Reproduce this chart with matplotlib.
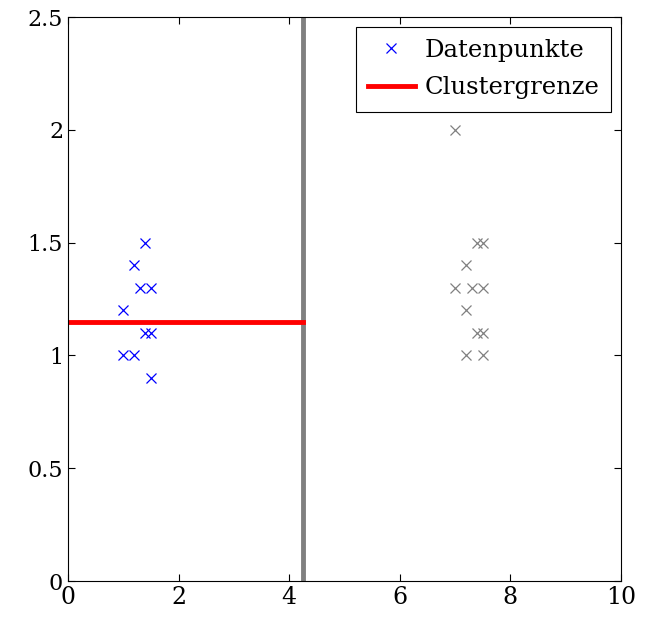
import matplotlib
matplotlib.use("Agg")
import matplotlib.pyplot as plt
from matplotlib.ticker import FuncFormatter

plt.rcParams['font.family'] = ['DejaVu Serif']

# Cluster 1 (blue)
blue_x = [1.4, 1.2, 1.3, 1.5, 1.0, 1.4, 1.5, 1.0, 1.2, 1.5]
blue_y = [1.5, 1.4, 1.3, 1.3, 1.2, 1.1, 1.1, 1.0, 1.0, 0.9]
# Cluster 2 (gray)
gray_x = [7.0, 7.4, 7.5, 7.2, 7.0, 7.3, 7.5, 7.2, 7.4, 7.5, 7.2, 7.5]
gray_y = [2.0, 1.5, 1.5, 1.4, 1.3, 1.3, 1.3, 1.2, 1.1, 1.1, 1.0, 1.0]
# Boundary
boundary_x = 4.25
center_y = 1.15

x_ticks = [0, 2, 4, 6, 8, 10]
y_ticks = [0, 0.5, 1, 1.5, 2, 2.5]

fig = plt.figure(figsize=(6.53, 6.21), dpi=100)
ax = fig.add_axes([68/653, 40/621, (621-68)/653, (581-17)/621])

ax.plot(blue_x, blue_y, 'x', color='blue', markersize=7, markeredgewidth=0.9,
        label='Datenpunkte', zorder=3)
ax.plot(gray_x, gray_y, 'x', color='gray', markersize=7, markeredgewidth=0.9, zorder=3)
ax.axvline(boundary_x, color='gray', linewidth=3.5, zorder=2)
ax.plot([0, boundary_x], [center_y, center_y], color='red', linewidth=3.5,
        label='Clustergrenze', zorder=2)

ax.set_xlim(0, 10)
ax.set_ylim(0, 2.5)
ax.set_xticks(x_ticks)
ax.set_yticks(y_ticks)
ax.yaxis.set_major_formatter(FuncFormatter(lambda v, p: ('%g' % v)))
ax.tick_params(direction='in', top=True, right=True, length=5, width=0.8,
               labelsize=16, colors='black')
for lbl in ax.get_xticklabels():
    lbl.set_fontsize(17)
for s in ax.spines.values():
    s.set_linewidth(0.8)

leg = ax.legend(loc='upper right', fontsize=17.5, fancybox=False, edgecolor='black',
                framealpha=1, borderpad=0.5, handlelength=1.9, handletextpad=0.4,
                labelspacing=0.6, borderaxespad=0.4)
leg.get_frame().set_linewidth(0.8)

fig.savefig('out.png', dpi=100)
